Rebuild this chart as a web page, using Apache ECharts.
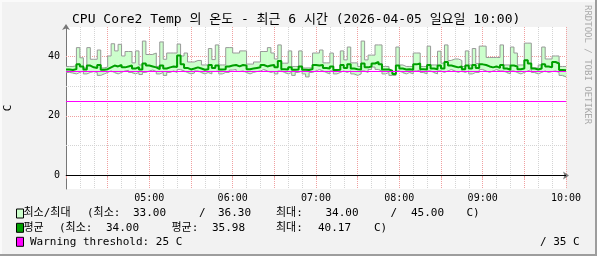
<!DOCTYPE html>
<html><head><meta charset="utf-8">
<script src="https://cdn.jsdelivr.net/npm/echarts@6/dist/echarts.min.js"></script>
<style>html,body{margin:0;padding:0;background:#f2f2f2;overflow:hidden}#c{width:597px;height:256px}</style>
</head><body><div id="c"></div>
<script>
const chartTitle = 'CPU Core2 Temp 의 온도 - 최근 6 시간 (2026-04-05 일요일 10:00)';
const startMin = 240, endMin = 600, stepMin = 2.5;
const maxVals = [
36.5,36.5,36.7,42.8,39.4,36.0,42.8,38.9,38.9,42.0,
36.0,36.3,40.0,44.1,41.7,43.9,40.0,41.5,41.5,37.7,
41.7,37.0,45.0,40.5,40.5,41.0,36.5,44.7,38.9,41.0,
41.0,41.0,44.0,40.0,41.0,38.0,38.0,38.5,38.5,37.0,
37.0,42.5,38.8,43.7,37.0,37.0,42.8,42.8,41.0,41.0,
41.7,41.7,37.3,37.3,38.0,38.0,41.5,41.5,42.8,41.0,
39.0,43.7,37.6,37.6,41.7,36.5,36.5,41.7,36.0,36.0,
36.0,41.0,41.0,42.0,37.7,37.7,41.0,35.5,35.5,41.7,
38.7,43.0,37.7,37.7,36.5,45.0,38.7,40.3,40.3,43.7,
43.7,36.5,36.5,35.3,34.0,43.0,37.0,36.5,36.5,36.5,
41.0,41.0,36.5,36.5,43.3,37.0,37.0,41.6,37.6,43.7,
38.5,39.0,39.0,38.5,36.5,41.7,37.0,42.5,37.5,43.3,
43.3,39.5,39.5,39.5,39.5,43.7,37.0,37.0,43.0,41.0,
37.0,37.0,44.3,44.3,36.0,36.0,37.0,43.0,39.0,39.0,
40.0,40.0,36.5,36.5];
const minVals = [
34.5,34.3,34.0,34.5,35.0,34.0,34.5,34.8,34.5,33.5,
34.0,34.5,35.0,34.5,34.0,34.5,35.0,35.2,34.5,34.0,
34.5,33.8,34.5,35.0,35.3,34.8,34.0,34.5,33.5,34.5,
35.0,34.5,35.5,35.0,34.5,34.0,34.3,35.0,34.5,34.0,
34.5,34.0,34.8,35.0,34.0,34.5,34.5,35.3,35.5,34.8,
35.0,34.5,34.0,34.5,34.8,35.0,35.5,35.0,34.5,34.8,
34.0,35.0,34.5,34.0,34.5,33.5,34.5,35.0,34.0,33.0,
34.5,35.0,35.5,35.0,34.5,34.0,35.0,34.0,34.5,35.0,
34.5,35.0,34.0,33.5,34.0,35.0,34.5,35.5,36.3,35.5,
35.0,34.0,34.5,33.5,33.5,35.0,34.5,34.0,34.5,34.0,
35.0,35.3,34.5,34.0,35.0,34.5,34.0,35.0,34.5,35.0,
35.5,35.0,34.5,35.0,34.5,35.0,34.0,34.5,34.5,35.5,
35.0,34.5,35.0,35.5,35.0,35.0,34.5,34.0,35.0,34.5,
34.0,34.5,35.0,35.5,34.5,34.0,34.5,35.0,34.5,34.8,
35.0,34.5,33.5,33.0];
const avgVals = [
35.5,35.3,35.6,37.2,36.5,35.5,36.8,36.2,36.0,37.0,
35.4,35.6,36.2,36.8,36.5,37.0,36.2,36.5,36.8,35.8,
36.3,35.5,37.5,36.8,36.5,36.2,35.6,36.8,35.8,36.2,
36.5,36.3,40.17,37.2,36.0,35.5,35.8,36.2,35.8,35.4,
35.6,37.0,36.0,36.8,35.5,35.6,36.5,36.8,37.0,36.5,
37.0,36.8,35.6,35.8,36.0,36.2,37.0,36.5,36.8,37.0,
36.2,38.3,35.6,35.5,36.2,35.4,35.5,36.5,35.4,35.3,
35.6,37.0,36.8,37.0,36.0,35.8,36.5,35.3,35.4,37.0,
36.0,37.2,35.8,35.6,35.5,37.5,36.2,36.5,37.5,38.0,
37.2,35.5,35.5,35.0,34.0,36.8,35.8,35.5,35.6,35.4,
37.2,37.5,35.6,35.5,37.0,35.8,35.6,36.8,35.8,38.0,
36.8,36.5,36.2,36.5,35.6,36.8,35.8,37.0,36.0,37.2,
37.0,36.5,36.2,36.5,36.0,37.0,35.8,35.4,36.8,36.5,
35.6,35.8,38.6,37.5,35.8,35.5,35.8,37.2,36.5,36.2,
38.0,37.5,35.3,35.2];
const warnLevels = [25, 35];
const zeroLevel = [0];
const yMajorGrid = [20, 40];
const yMinorGrid = [10, 30];
const yLabelValues = [0, 20, 40];
const hourTicks = [300, 360, 420, 480, 540, 600];
const hourLabels = ['05:00', '06:00', '07:00', '08:00', '09:00', '10:00'];
const legendRows = [
  [['최소/최대', 23.5], ['(최소:', 87], ['33.00', 133], ['/', 199], ['36.30', 218], ['최대:', 276], ['34.00', 325.5], ['/', 390.5], ['45.00', 411], ['C)', 466.5]],
  [['평균', 23.5], ['(최소:', 59], ['34.00', 106], ['평균:', 171.5], ['35.98', 212], ['최대:', 276], ['40.17', 318], ['C)', 374]],
  [['Warning threshold: 25 C', 30], ['/ 35 C', 540]]
];
const legendColors = ['#ccffcc', '#00a000', '#ff00ff'];

const MONO = '"DejaVu Sans Mono","Noto Sans CJK KR",monospace';
function toPts(arr) {
  const pts = arr.map((v, i) => [startMin + i * stepMin, v]);
  pts.push([endMin, arr[arr.length - 1]]);
  return pts;
}
const bandData = maxVals.map((v, i) => [startMin + i * stepMin, startMin + (i + 1) * stepMin, minVals[i], v]);
function hLines(vals, color, dash, width) {
  return vals.map(v => ({ yAxis: v, lineStyle: { color: color, type: dash, width: width } }));
}

const graphics = [];
graphics.push({ type: 'text', x: 72, y: 19.5, style: { text: chartTitle, font: '13px ' + MONO, fill: '#000', verticalAlign: 'middle', align: 'left' } });
graphics.push({ type: 'text', x: 587.5, y: 5, rotation: -Math.PI / 2, style: { text: 'RRDTOOL / TOBI OETIKER', font: '9px ' + MONO, fill: '#aaaaaa', verticalAlign: 'middle', align: 'left' } });
const rowY = [213.5, 227.8, 241.8];
legendRows.forEach((row, r) => {
  graphics.push({ type: 'rect', shape: { x: 16.5, y: rowY[r] - 4.5, width: 7, height: 9 }, style: { fill: legendColors[r], stroke: '#000', lineWidth: 1 } });
  row.forEach(([t, x]) => {
    graphics.push({ type: 'text', x: x, y: rowY[r], style: { text: t, font: '11px ' + MONO, fill: '#000', verticalAlign: 'middle', align: 'left' } });
  });
});
graphics.push({ type: 'rect', shape: { x: 0, y: 0, width: 597, height: 2 }, style: { fill: '#fafafa' }, silent: true });
graphics.push({ type: 'rect', shape: { x: 0, y: 0, width: 2, height: 256 }, style: { fill: '#fafafa' }, silent: true });
graphics.push({ type: 'rect', shape: { x: 595, y: 0, width: 2, height: 256 }, style: { fill: '#9d9d9d' }, silent: true });
graphics.push({ type: 'rect', shape: { x: 0, y: 254, width: 597, height: 2 }, style: { fill: '#9d9d9d' }, silent: true });

const chart = echarts.init(document.getElementById('c'), null, { renderer: 'canvas' });
chart.setOption({
  animation: false,
  backgroundColor: '#f2f2f2',
  grid: { left: 66, right: 31, top: 27, bottom: 67, show: true, backgroundColor: '#ffffff', borderWidth: 0, containLabel: false, outerBoundsMode: 'none' },
  xAxis: {
    type: 'value', min: startMin, max: endMin, interval: 30,
    axisLine: { show: true, lineStyle: { color: '#777', width: 1 }, symbol: ['none', 'arrow'], symbolSize: [6, 6], symbolOffset: [0, 3] },
    axisTick: { show: true, length: 3, lineStyle: { color: '#f0a0a0' } },
    axisLabel: {
      margin: 4, fontSize: 10, fontFamily: MONO, color: '#000',
      formatter: v => { const k = hourTicks.indexOf(v); return k >= 0 ? hourLabels[k] : ''; }
    },
    splitLine: { show: true, lineStyle: { color: '#f0a0a0', type: [1, 1], width: 1 } },
    minorTick: { show: false, splitNumber: 3 },
    minorSplitLine: { show: true, lineStyle: { color: '#d4d4d4', type: [1, 1], width: 1 } }
  },
  yAxis: {
    type: 'value', min: -4.5, max: 49.7, minInterval: 20, maxInterval: 20, splitNumber: 3,
    name: 'C', nameLocation: 'middle', nameRotate: 90, nameGap: 52,
    nameTextStyle: { fontSize: 11, fontFamily: MONO, color: '#000' },
    axisLine: { show: true, lineStyle: { color: '#777', width: 1 }, symbol: ['none', 'arrow'], symbolSize: [6, 6], symbolOffset: [0, 3] },
    axisTick: { show: false },
    axisLabel: {
      margin: 6, fontSize: 10, fontFamily: MONO, color: '#000',
      formatter: v => (yLabelValues.indexOf(v) >= 0 ? String(v) : '')
    },
    splitLine: { show: false }
  },
  series: [
    {
      type: 'custom', name: 'band', z: 2,
      data: bandData,
      encode: { x: [0, 1], y: [2, 3] },
      renderItem: (params, api) => {
        const p0 = api.coord([api.value(0), api.value(3)]);
        const p1 = api.coord([api.value(1), api.value(2)]);
        return { type: 'rect', shape: { x: p0[0], y: p0[1], width: p1[0] - p0[0] + 0.4, height: p1[1] - p0[1] }, style: { fill: '#ccffcc' } };
      },
      markLine: {
        silent: true, symbol: 'none', z: 1, label: { show: false },
        data: hLines(yMajorGrid, '#f0a0a0', [1, 1], 1).concat(hLines(yMinorGrid, '#d4d4d4', [1, 1], 1))
      }
    },
    {
      type: 'line', name: 'min', step: 'end', showSymbol: false, z: 3,
      data: toPts(minVals),
      lineStyle: { color: '#999999', width: 1 }
    },
    {
      type: 'line', name: 'max', step: 'end', showSymbol: false, z: 3,
      data: toPts(maxVals),
      lineStyle: { color: '#999999', width: 1 }
    },
    {
      type: 'line', name: 'avg', step: 'end', showSymbol: false, z: 4,
      data: toPts(avgVals),
      lineStyle: { color: '#00a000', width: 2 },
      markLine: {
        silent: true, symbol: 'none', z: 10, label: { show: false },
        data: hLines(warnLevels, '#ff00ff', 'solid', 1).concat(hLines(zeroLevel, '#000000', 'solid', 1))
      }
    }
  ],
  graphic: graphics
});
</script></body></html>
